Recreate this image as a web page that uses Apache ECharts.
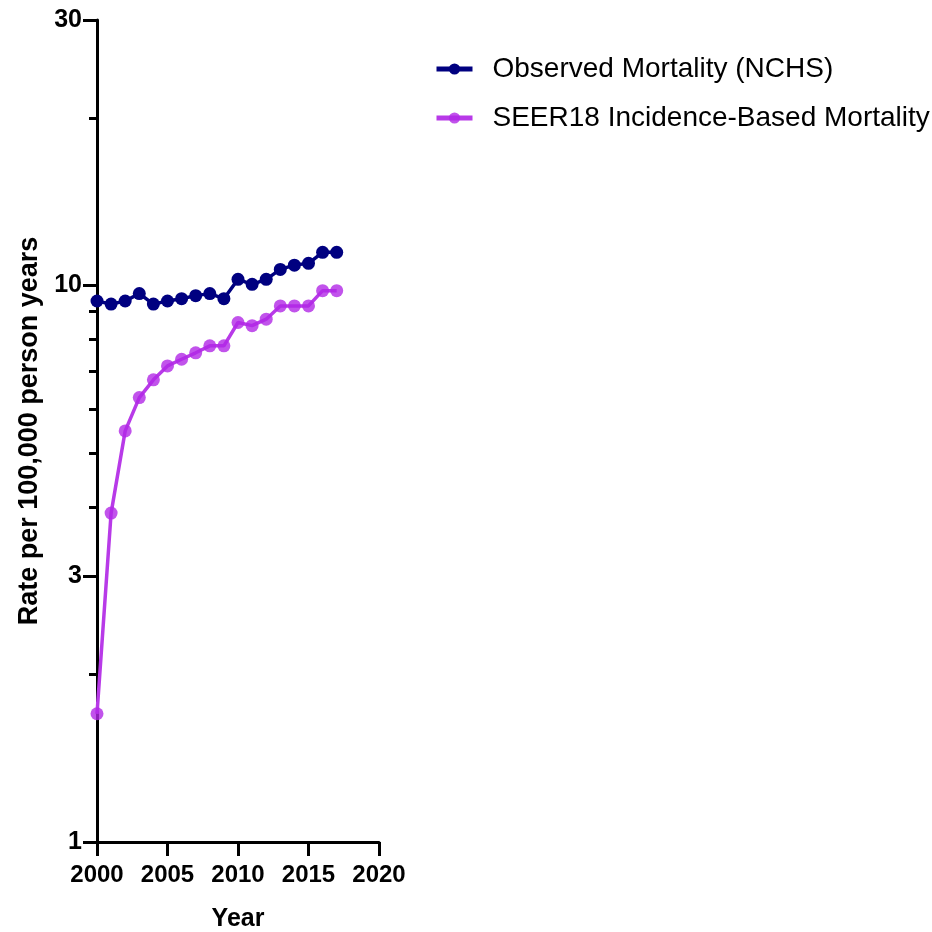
<!DOCTYPE html>
<html lang="en">
<head>
    <meta charset="UTF-8">
    <title>Mortality</title>
    <style>
        html,body{margin:0;padding:0;background:#fff}
        #chart{width:932px;height:932px}
    </style>
</head>
<body>
<div id="chart"></div>
<script src="https://cdn.jsdelivr.net/npm/echarts@6/dist/echarts.min.js"></script>
<script>
    var years = [2000,2001,2002,2003,2004,2005,2006,2007,2008,2009,2010,2011,2012,2013,2014,2015,2016,2017];
    var observed = [9.38,9.26,9.38,9.67,9.26,9.38,9.47,9.59,9.67,9.47,10.26,10.05,10.26,10.69,10.88,10.96,11.47,11.47];
    var seer = [1.70,3.90,5.48,6.29,6.77,7.17,7.37,7.57,7.79,7.79,8.58,8.47,8.70,9.19,9.19,9.19,9.79,9.79];
    var majorTicks = [1,3,10,30];
    var minorTicks = [2,4,5,6,7,8,9,20];

    var fontFamily = 'Arial, "Liberation Sans", sans-serif',
        navy = '#000080',
        purple = '#b83ae8',
        purpleDot = 'rgba(178,40,230,0.8)';

    function pairs(vals) {
        return years.map(function (y, i) { return [y, vals[i]]; });
    }

    var option = {
        backgroundColor: '#fff',
        animation: false,
        textStyle: {fontFamily: fontFamily},
        grid: {left: 97, right: 553, top: 20, bottom: 90, outerBoundsMode: 'none', containLabel: false},
        legend: {
            orient: 'vertical',
            left: 429,
            top: 50,
            itemWidth: 36,
            itemHeight: 14,
            itemGap: 21,
            lineStyle: {width: 5},
            textStyle: {fontSize: 28, color: '#000', fontFamily: fontFamily, padding: [0, 0, 0, 15]},
            data: ['Observed Mortality (NCHS)', 'SEER18 Incidence-Based Mortality']
        },
        xAxis: {
            type: 'value',
            min: 2000,
            max: 2020,
            interval: 5,
            name: 'Year',
            nameLocation: 'middle',
            nameGap: 65,
            nameTextStyle: {fontSize: 25, fontWeight: 'bold', color: '#000'},
            splitLine: {show: false},
            axisLine: {lineStyle: {color: '#000', width: 3}},
            axisTick: {length: 14, lineStyle: {color: '#000', width: 3}},
            axisLabel: {fontSize: 24, fontWeight: 'bold', color: '#000', margin: 21,
                formatter: function (v) { return String(v); }}
        },
        yAxis: [{
            type: 'log',
            min: 1,
            max: 30,
            name: 'Rate per 100,000 person years',
            nameLocation: 'middle',
            nameGap: 54,
            nameTextStyle: {fontSize: 27, fontWeight: 'bold', color: '#000'},
            splitLine: {show: false},
            axisLine: {lineStyle: {color: '#000', width: 3}},
            axisTick: {length: 14, lineStyle: {color: '#000', width: 3}, customValues: majorTicks},
            axisLabel: {fontSize: 25, fontWeight: 'bold', color: '#000', margin: 15, customValues: majorTicks}
        }, {
            type: 'log',
            min: 1,
            max: 30,
            position: 'left',
            splitLine: {show: false},
            axisLine: {show: false},
            axisTick: {length: 8, lineStyle: {color: '#000', width: 3}, customValues: minorTicks},
            axisLabel: {show: false}
        }],
        series: [{
            name: 'Observed Mortality (NCHS)',
            type: 'line',
            data: pairs(observed),
            symbol: 'circle',
            symbolSize: 13,
            lineStyle: {color: navy, width: 3.5},
            itemStyle: {color: navy}
        }, {
            name: 'SEER18 Incidence-Based Mortality',
            type: 'line',
            data: pairs(seer),
            symbol: 'circle',
            symbolSize: 13,
            lineStyle: {color: purple, width: 3.5},
            itemStyle: {color: purpleDot}
        }]
    };

    var chart = echarts.init(document.getElementById('chart'));
    chart.setOption(option);
</script>
</body>
</html>
